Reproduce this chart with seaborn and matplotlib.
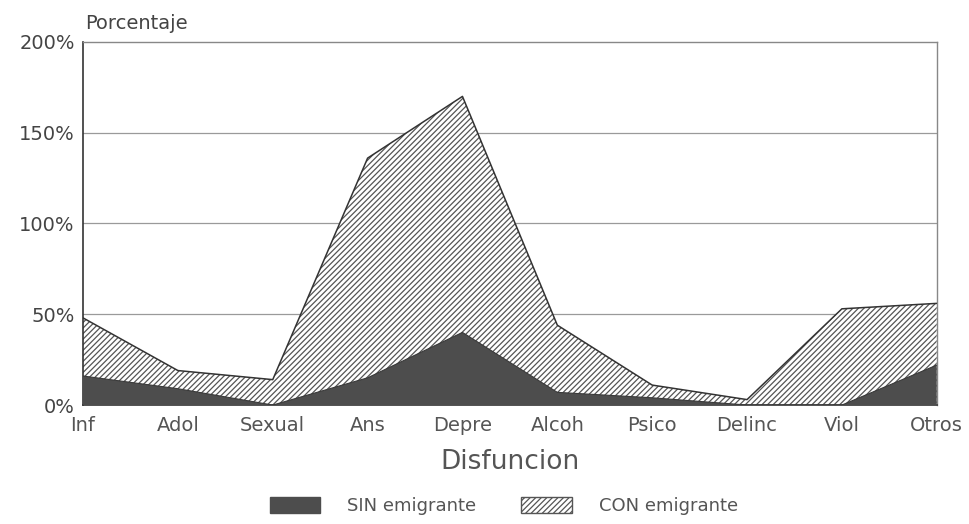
import numpy as np
import pandas as pd
import matplotlib
matplotlib.use("Agg")
import matplotlib.pyplot as plt
import seaborn as sns
from matplotlib.patches import Patch

categories = ["Inf", "Adol", "Sexual", "Ans", "Depre", "Alcoh", "Psico", "Delinc", "Viol", "Otros"]
sin_emigrante = [16, 9, 0, 15, 40, 7, 4, 0, 0, 22]
con_emigrante = [48, 19, 14, 136, 170, 44, 11, 3, 53, 56]
yticks = [0, 50, 100, 150, 200]
ytick_labels = ["0%", "50%", "100%", "150%", "200%"]

sns.set_style("white")
plt.rcParams["font.family"] = ["DejaVu Sans"]
plt.rcParams["hatch.linewidth"] = 0.9

fig = plt.figure(figsize=(9.69, 5.24), dpi=100)
ax = fig.add_axes([0.0857, 0.227, 0.881, 0.693])

x = np.arange(len(categories))
df = pd.DataFrame({"x": x, "cat": categories, "SIN": sin_emigrante, "CON": con_emigrante})

for y in yticks[1:-1]:
    ax.axhline(y, color="#9a9a9a", lw=0.9, zorder=0)

ax.fill_between(df["x"], 0, df["CON"], facecolor="white", edgecolor="#555555",
                hatch="//////", lw=0, zorder=2)
sns.lineplot(data=df, x="x", y="CON", ax=ax, color="#333333", lw=1.1, zorder=3)
ax.fill_between(df["x"], 0, df["SIN"], facecolor="#4d4d4d", edgecolor="none", zorder=4)
sns.lineplot(data=df, x="x", y="SIN", ax=ax, color="#3a3a3a", lw=0.8, zorder=5)

ax.set_xlim(0, len(categories) - 1)
ax.set_ylim(0, 200)
ax.set_xticks(x)
ax.set_xticklabels(categories, fontsize=14, color="#555555")
ax.set_yticks(yticks)
ax.set_yticklabels(ytick_labels, fontsize=14, color="#444444")
ax.tick_params(axis="x", length=0, pad=8)
ax.tick_params(axis="y", length=0, pad=6)
ax.set_xlabel("Disfuncion", fontsize=19, color="#555555", labelpad=10)
ax.set_ylabel("")
ax.text(0.088, 0.955, "Porcentaje", transform=fig.transFigure, fontsize=14,
        color="#444444", ha="left", va="center")

for side in ["top", "right"]:
    ax.spines[side].set_color("#888888")
    ax.spines[side].set_linewidth(1.0)
for side in ["left", "bottom"]:
    ax.spines[side].set_color("#333333")
    ax.spines[side].set_linewidth(1.2)

handles = [Patch(facecolor="#4d4d4d", edgecolor="#4d4d4d", label="SIN emigrante"),
           Patch(facecolor="white", edgecolor="#555555", hatch="//////", label="CON emigrante")]
leg = fig.legend(handles=handles, loc="center", bbox_to_anchor=(0.52, 0.035), ncol=2,
                 frameon=False, fontsize=13, handlelength=2.8, handleheight=1.0,
                 columnspacing=2.5, handletextpad=1.5)
for t in leg.get_texts():
    t.set_color("#555555")

fig.savefig("out.png", dpi=100)
